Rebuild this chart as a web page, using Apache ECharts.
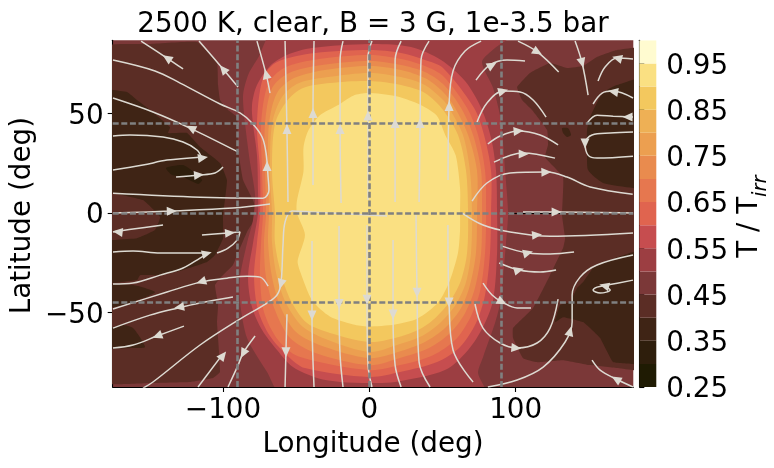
<!DOCTYPE html>
<html><head><meta charset="utf-8">
<style>html,body{margin:0;padding:0;background:#fff}#c{width:774px;height:468px}</style>
<script src="https://cdn.jsdelivr.net/npm/echarts@6/dist/echarts.min.js"></script>
</head><body><div id="c"></div><script>
const TITLE='2500 K, clear, B = 3 G, 1e-3.5 bar';
const lonTicks=[-100,0,100], latTicks=[-50,0,50];
const guideLon=[-90,0,90], guideLat=[-45,0,45];
const levels=[.25,.30,.35,.40,.45,.50,.55,.60,.65,.70,.75,.80,.85,.90,.95];
const bandColors=['#1F1B03','#2E1E0C','#3F2415','#5B2D25','#7B3838','#9C3E42','#C64D4F','#E0644F','#E6774F','#E98B4E','#EC9F50','#EEB055','#F3C85E','#FAE082','#FFFBD0'];

// contour outlines: [lon, lat]
const c40Left=[[-184,83.4],[-149.9,84.9],[-117.8,85.9],[-104.1,75.4],[-103.4,64.3],[-102,56.8],[-96.6,51.8],[-90.4,48.2],[-89.7,31.7],[-86.3,16.6],[-79.5,6.5],[-76.8,-1],[-83.6,-9.5],[-88.4,-17.6],[-93.2,-26.1],[-102.1,-32.7],[-105.5,-36.2],[-103.4,-46.2],[-104.1,-54.8],[-103.4,-62.8],[-102.1,-79.9],[-106.9,-82.9],[-122.6,-84.9],[-149.9,-85.4],[-184,-84.9]];
const c40Right=[[101,63.3],[109.8,70.4],[123.5,75.4],[135.1,72.9],[146.1,73.9],[155.6,78.4],[169.3,81.9],[191.9,82.9],[191.9,-78.9],[169.3,-77.9],[150.9,-76.4],[132.4,-73.9],[114.6,-74.9],[105.1,-72.9],[98.2,-62.8],[98.2,-57.8],[111.9,-47.7],[123.5,-31.2],[132.4,-17.6],[133.8,-12.6],[131.7,-1],[132.4,18.1],[120.1,28.1],[122.1,34.2],[121.5,41.7],[111.2,51.8],[104.4,56.8]];
const c35Left=[[-184,62.8],[-175.2,61.8],[-165.6,60.8],[-158.8,56.8],[-149.9,51.8],[-136.2,43.2],[-137.6,40.2],[-124.6,40.2],[-115.7,33.2],[-102,25.1],[-97.3,16.6],[-98.7,6.5],[-100,-1],[-100,-12.6],[-105.5,-21.1],[-110.9,-24.6],[-127.3,-28.6],[-143,-31.2],[-156.7,-31.2],[-158.8,-33.7],[-184,-35.2],[-184,-14.6],[-158.8,-12.6],[-146.5,-8.5],[-143,-2],[-154.7,6.5],[-175.2,10],[-184,10]];
const c35BulbA=[[-184,-36.2],[-161.5,-36.2],[-146.5,-39.7],[-154.7,-42.7],[-168.4,-46.2],[-184,-47.7]];
const c35BulbB=[[-184,-59.8],[-169,-56.3],[-161.5,-57.8],[-153.3,-67.3],[-161.5,-67.8],[-184,-67.8]];
const c35NE=[[191.9,67.8],[169.3,64.3],[162.4,61.8],[157.7,58.3],[150.9,48.2],[148.8,41.7],[148.8,30.2],[149.5,21.6],[159.7,15.1],[180.2,12.6],[191.9,11.6]];
const c35Spot=[[131.7,42.7],[135.8,42.7],[137.9,39.2],[135.1,38.2],[132.4,40.2]];
const c35SE=[[191.9,-18.6],[180.2,-19.6],[164.6,-23.6],[153,-27.6],[146.1,-34.7],[142,-37.7],[137.2,-44.7],[130.4,-46.2],[126.9,-54.8],[132.4,-52.3],[146.1,-54.8],[157.7,-62.8],[166.6,-74.9],[180.2,-75.9],[191.9,-76.4]];
const c30Patch=[[-139,22.6],[-127.3,24.1],[-119.1,20.1],[-114.3,16.6],[-117,14.6],[-127.3,18.1],[-134.8,19.1]];
const c50=[[-64.5,92],[-76.1,77.9],[-82.9,69.3],[-86.3,59.3],[-85,45.2],[-81.5,25.1],[-78.1,9],[-79.5,-3.5],[-83.6,-15.1],[-88.4,-32.2],[-88.4,-44.7],[-83.6,-62.8],[-69.9,-79.9],[-59,-92],[79.8,-92],[74.3,-80.4],[77.7,-72.4],[85.9,-55.3],[89.4,-45.2],[91.4,-32.2],[93.4,-15.1],[94.8,0],[92.8,21.1],[90,46.2],[84.6,62.8],[77,75.9],[85.9,82.9],[101.6,92]];
const c55=[[0,84.9],[28.5,83.4],[49,76.9],[65.4,66.3],[76.4,52.8],[83.2,37.7],[86.6,21.1],[87.3,0],[87.3,-20],[84.6,-43.7],[77.7,-57.3],[67.5,-68.8],[51.7,-78.9],[17.6,-84.9],[0,-85.4],[-20,-84.9],[-35.7,-82.9],[-52.2,-77.4],[-63.1,-68.8],[-73.3,-58.8],[-80.2,-47.2],[-82.9,-32.2],[-79.5,-15.1],[-76.1,0],[-76.1,11.1],[-76.8,29.1],[-79.5,44.7],[-80.2,54.3],[-76.8,64.3],[-67.9,73.9],[-56.3,79.4],[-39.2,82.9]];
const c60=[[0,81.9],[21.7,80.4],[38,76.9],[50.4,72.9],[71.6,52.8],[78.4,39.2],[83.2,21.1],[83.2,0],[82.5,-20],[79.1,-41.2],[72.9,-55.3],[62,-67.3],[46.3,-74.9],[21,-79.9],[0,-82.4],[-44,-77.9],[-55.6,-71.9],[-67.9,-61.8],[-76.1,-48.7],[-78.8,-32.2],[-76.8,-15.1],[-74.7,0],[-74.7,21.1],[-76.8,44.7],[-72.7,67.8],[-63.1,75.9],[-37.1,80.4]];
const c65=[[0,79.4],[21.7,77.4],[38,73.9],[50.4,68.8],[66.8,52.8],[74.3,39.2],[79.1,21.1],[79.8,0],[79.1,-20],[75.7,-39.2],[68.8,-52.8],[58.6,-63.8],[43.5,-71.4],[21,-76.4],[0,-78.9],[-48.7,-71.9],[-62.4,-63.8],[-72,-49.7],[-74.7,-32.2],[-74,-15.1],[-72.7,0],[-73.3,21.1],[-74,44.7],[-69.2,64.8],[-58.3,72.9],[-34.4,77.4]];
const c70=[[0,76.4],[21.7,74.4],[38,70.9],[50.4,64.8],[62.7,52.8],[70.9,39.2],[76.4,21.1],[77,0],[76.4,-20],[72.2,-37.7],[65.4,-50.3],[55.2,-60.3],[40.8,-67.8],[20.3,-72.9],[0,-76.4],[-36.4,-70.4],[-54.2,-62.8],[-64.5,-48.7],[-70.6,-32.2],[-72,-15.1],[-70.6,0],[-71.3,21.1],[-71.3,44.7],[-66.5,62.8],[-54.9,70.4],[-32.3,74.4]];
const c75=[[0,73.9],[21.7,71.9],[38,67.8],[50.4,60.8],[58.6,52.8],[67.5,39.2],[73.6,21.1],[73.6,0],[72.9,-20],[68.8,-36.2],[62.7,-47.7],[51.7,-57.8],[38,-64.8],[19.6,-69.8],[0,-72.9],[-32.3,-66.8],[-50.1,-59.8],[-60.4,-47.7],[-66.5,-32.2],[-69.2,-15.1],[-68.6,0],[-69.2,21.1],[-68.6,44.7],[-63.1,60.3],[-51.5,67.8],[-30.3,71.9]];
const c80=[[0,70.4],[21.7,68.3],[38,64.3],[50.4,56.8],[54.5,52.8],[64,39.2],[68.8,21.1],[70.2,0],[69.5,-20],[66.1,-34.7],[59.3,-45.7],[48.3,-55.3],[36,-61.8],[18.9,-66.3],[0,-69.8],[-28.2,-63.8],[-45.3,-57.3],[-56.3,-46.2],[-63.1,-32.2],[-66.5,-15.1],[-66.5,0],[-67.9,21.1],[-66.5,44.7],[-59.7,58.3],[-48,65.3],[-28.2,68.3]];
const c85=[[0,66.3],[21.7,64.3],[38,60.3],[50.4,51.8],[60.6,39.2],[66.1,21.1],[67.5,0],[66.8,-20],[62.7,-33.7],[55.8,-43.7],[44.9,-52.8],[33.2,-58.8],[17.6,-62.8],[0,-64.8],[-26.9,-60.3],[-42.6,-55.3],[-52.8,-45.2],[-59.7,-32.2],[-64.5,-15.1],[-64.5,0],[-66.5,21.1],[-64.5,44.7],[-56.3,56.3],[-45.3,62.8],[-26.9,65.3]];
const c90=[[-1,60.3],[17.6,58.8],[33,55],[46,49],[52,39],[59,29],[62,12.5],[62,0],[62,-8.5],[60.6,-20],[55,-34],[47,-45],[33,-53],[17.6,-56],[-1,-57],[-11,-56],[-27,-52],[-39,-44],[-47,-30],[-49,-24],[-44,-11],[-49.5,0],[-49.5,6],[-45,21],[-45,33],[-42,41],[-34,49],[-22,54],[-11,59]];
const contours=[[.40,c40Left,.1],[.40,c40Right,.1],[.35,c35Left,.1],[.35,c35BulbA,.2],[.35,c35BulbB,.2],[.35,c35NE,.2],[.35,c35Spot,.2],[.35,c35SE,.1],[.30,c30Patch,.2],[.50,c50,.25],[.55,c55,.3],[.60,c60,.3],[.65,c65,.3],[.70,c70,.3],[.75,c75,.3],[.80,c80,.3],[.85,c85,.3],[.90,c90,.25]];

const streamlines=[
[[-127.3,72.4],[-138.3,77.9],[-156,86.4]],
[[-89.7,63.3],[-100,72.4],[-116.4,86.4]],
[[-67.9,60.3],[-70.6,69.9],[-76.8,86.4]],
[[-175.2,76.9],[-146.5,71.4],[-129.3,65.3],[-102,54.8],[-88.4,50.3],[-80.2,45.2],[-73.3,38.2],[-70.6,30.2],[-69.2,18.1],[-68.6,11.6],[-72.7,7.5],[-115.7,8],[-175.2,10]],
[[-89.7,30.7],[-122.6,42.7],[-147.9,50.8],[-175.2,57.8]],
[[-175.2,38.7],[-163.6,39.2],[-141,38.2],[-127.3,35.7],[-117.8,31.7],[-114.4,27.6]],
[[-175.2,21.6],[-154.7,24.1],[-138.3,26.6],[-115.7,28.1]],
[[-132.1,18.1],[-116.4,19.1],[-105.5,20.1],[-100,23.1]],
[[-175.2,0],[-136.2,1],[-93.2,2.5],[-67.9,4.5]],
[[12.1,-1.5],[-40.5,0.5],[-52.8,1],[-57.6,-4.5],[-59,-16.1],[-60.4,-35.2],[-63.1,-41.2],[-69.9,-45.2],[-89.7,-53.8],[-115.7,-66.3],[-147.9,-84.9],[-154.7,-88]],
[[-141,-6],[-161.5,-8],[-175.2,-9.5]],
[[-114.4,-11],[-96.6,-10],[-88.4,-9.5],[-90.4,-13.6],[-96.6,-17.6],[-104.1,-20.1]],
[[-175.2,-19.6],[-161.5,-19.1],[-143,-20.1],[-115.7,-20.1],[-111,-20.1]],
[[-175.2,-35.7],[-161.5,-35.2],[-143,-31.2],[-127.3,-27.6],[-115.7,-22.6],[-110.2,-20.1]],
[[-69.2,-36.7],[-74.7,-32.2],[-83.6,-31.7],[-97.3,-32.7],[-115.7,-34.7],[-138.3,-39.7],[-175.2,-48.2]],
[[-93.2,-42.2],[-115.7,-45.2],[-130.8,-47.7],[-149.9,-51.3],[-175.2,-57.8]],
[[-126.7,-56.8],[-145.1,-61.8],[-161.5,-66.3],[-175.2,-67.8]],
[[-117.1,-87.4],[-100.7,-71.4]],
[[-78.1,-61.8],[-86.3,-70.4],[-89.7,-76.4],[-96.6,-87.4]],
[[-57.6,86.4],[-56.3,41.7],[-55.6,5.5]],
[[-37.8,86.4],[-38.5,50.8],[-38.5,14.1]],
[[-18,86.4],[-20,76.9],[-20,42.2],[-19.3,5]],
[[1.8,86.4],[-0.9,78.4],[-0.9,49.2],[-0.9,6.5]],
[[21.7,86.4],[17.6,76.9],[17.6,45.7],[17.6,5.5]],
[[40.8,86.4],[35.3,76.9],[34.7,45.2],[34,5.5]],
[[76.4,86.4],[65.4,81.4],[57.2,71.4],[54.5,54.3],[53.8,16.6]],
[[-56.3,-50.8],[-57,-69.8],[-57.6,-87.4]],
[[-39.2,-14.1],[-39.2,-51.3],[-37.8,-87.4]],
[[-20.7,-6.5],[-20.7,-45.7],[-20,-71.4],[-18,-87.4]],
[[-1.6,-6],[-1.6,-43.7],[-0.9,-76.4],[1.8,-87.4]],
[[16.2,-13.6],[16.2,-50.8],[17.6,-76.4],[21.7,-87.4]],
[[31.9,-1],[32.6,-40.2],[34,-74.9],[41.5,-87.4]],
[[53.7,-6],[54.5,-45.2],[57.2,-68.8],[70.9,-84.9]],
[[70.2,6],[80.4,15.1],[96.2,20.1],[121.5,20.6],[135.1,18.1],[150.9,13.1],[180,9.5]],
[[85.2,25.6],[105,30.2],[126.9,27.6]],
[[81,34.7],[89.4,38.7],[101.6,41.2],[116.7,39.2],[129,34.2]],
[[73.6,45.7],[80.4,55.3],[91.4,61.3],[103,60.8],[111.9,56.8],[120.8,48.2]],
[[72.9,66.8],[82.5,74.4],[94.1,76.9],[106.4,76.4]],
[[101.6,86.4],[115,80.9],[129.4,70.9]],
[[140.6,86.4],[145.4,75.4],[149.5,59.3]],
[[156.3,66.3],[161.1,73.4],[169.3,77.9],[180.2,77.4]],
[[152.9,54.8],[159.1,60.3],[166.6,61.3],[180.2,57.8]],
[[148.8,45.2],[155.6,49.2],[166.6,48.7],[180.2,48.2]],
[[180.2,40.7],[164.6,40.2],[152.2,39.2],[147.4,35.2],[149.5,29.1],[155.6,27.6],[180.2,28.6]],
[[105,0.5],[128.3,0.5],[180.2,0]],
[[63.4,0],[77.7,-6],[96.2,-9.5],[123.5,-11.6],[180.2,-10]],
[[90.7,-16.6],[108.5,-20.1],[123.5,-20.6],[139.9,-19.6]],
[[88.7,-25.1],[102.3,-28.6],[116.7,-29.6],[127.6,-28.6]],
[[77.7,-35.2],[83.9,-41.2],[90.7,-44.7],[101,-47.7],[110.5,-47.7]],
[[72.2,-45.7],[77.7,-57.8],[89.4,-65.3],[101,-67.8],[114.6,-65.3],[123.5,-57.8],[129,-43.2]],
[[81,-87.4],[101,-83.9],[118.8,-77.4],[133.8,-64.8],[138.6,-54.8],[138.6,-41.2],[144,-32.2],[155.6,-26.1],[180.2,-21.1]],
[[180.2,-33.7],[162.5,-36.2],[155.6,-37.2],[152.9,-38.7],[157.7,-40.2],[164.6,-38.7],[162.5,-37.2]],
[[152.2,-73.9],[157.7,-78.9],[168.6,-83.4],[180.2,-87.4]]
];
// arrows: [lon, lat, heading in degrees counter-clockwise from north]
const arrows=[[-138.3,77.9,56],[-100,72.4,40],[-70.6,69.9,14],[-69.9,23.6,0],[-122,42.7,63],[-113.7,27.8,-82],[-116.4,19.1,-85],[-135,1,-88],[-60.4,-35.7,165],[-172,-9.5,83],[-95.2,-10,-85],[-111,-20.3,-75],[-115,-34.5,108],[-130,-47.3,100],[-145,-61.8,110],[-100,-71.5,-38],[-86.3,-70.6,152],[-56.3,42.2,0],[-38.5,50.3,0],[-20,42.2,0],[-0.9,49,0],[17.6,45.2,0],[34.7,45.2,0],[54.5,53.8,0],[-57,-70,180],[-39.2,-51.5,180],[-20.7,-45.7,180],[-1.6,-43.5,180],[16.2,-51,180],[32.6,-40,180],[54.5,-45,180],[121,20.6,-88],[105.5,29.7,-90],[102,41.2,-85],[91.5,61.3,-75],[84,74.4,-60],[115,80.9,-120],[145.4,75.4,195],[169.3,77.9,75],[166.6,61,80],[176.5,48.2,90],[147.4,35,180],[128,0.5,-90],[114.6,-11,-85],[108.5,-20,-75],[102.3,-28.6,-75],[90.7,-44.7,-118],[100.5,-67.8,-95],[137.2,-59.3,-15],[160.5,-36.5,75],[168.6,-83.4,60]];

const FONT='"DejaVu Sans"', FS=27.8, INK='#000', LINE='#DDDAD2';
const minus=v=>String(v).replace('-','\u2212');
const colorOf=l=>bandColors[levels.findIndex(v=>Math.abs(v-l)<1e-6)];
const hiddenAxis={axisLabel:{show:false},axisTick:{show:false},splitLine:{show:false},axisLine:{show:true,lineStyle:{color:INK,width:1.1}}};
const guideStyle={color:'#808080',width:2.6,type:[6,2.6]};
const tickRich={v:{fontFamily:FONT,fontSize:FS,color:INK,padding:[6,0,0,0]}};

const chart=echarts.init(document.getElementById('c'),null,{renderer:'canvas'});
chart.setOption({
 animation:false,backgroundColor:'#fff',
 title:{text:TITLE,left:368,top:6,textAlign:'center',textStyle:{fontFamily:FONT,fontSize:FS,fontWeight:'normal',color:INK}},
 grid:[
  {left:112.7,top:40.3,width:520.6,height:346.7,show:true,backgroundColor:bandColors[4],borderWidth:0,outerBoundsMode:'none',containLabel:false},
  {left:639.3,top:40.3,width:17,height:346.7,outerBoundsMode:'none',containLabel:false}
 ],
 xAxis:[
  {type:'value',gridIndex:0,min:-175.4,max:180.4,splitLine:{show:false},axisLine:{show:true,onZero:false,lineStyle:{color:INK,width:1.1}},
   axisTick:{show:true,length:5,customValues:lonTicks,lineStyle:{color:INK,width:1.1}},
   axisLabel:{customValues:lonTicks,formatter:minus,fontFamily:FONT,fontSize:FS,color:INK,margin:10},
   name:'Longitude (deg)',nameLocation:'middle',nameGap:44,nameMoveOverlap:false,nameTextStyle:{fontFamily:FONT,fontSize:FS,color:INK}},
  Object.assign({type:'value',gridIndex:0,position:'top',min:-175.4,max:180.4},hiddenAxis),
  {type:'value',gridIndex:1,min:0,max:1,show:false}
 ],
 yAxis:[
  {type:'value',gridIndex:0,min:-87.4,max:86.8,splitLine:{show:false},axisLine:{show:true,onZero:false,lineStyle:{color:INK,width:1.1}},
   axisTick:{show:true,length:5,customValues:latTicks,lineStyle:{color:INK,width:1.1}},
   axisLabel:{customValues:latTicks,formatter:v=>'{v|'+minus(v)+'}',rich:tickRich,margin:9},
   name:'Latitude (deg)',nameLocation:'middle',nameRotate:90,nameGap:76,nameMoveOverlap:false,nameTextStyle:{fontFamily:FONT,fontSize:FS,color:INK,padding:[0,4,0,0]}},
  Object.assign({type:'value',gridIndex:0,position:'right',min:-87.4,max:86.8},hiddenAxis),
  {type:'value',gridIndex:1,position:'right',min:.25,max:1,interval:.1,splitLine:{show:false},
   axisLine:{show:true,lineStyle:{color:INK,width:1.1}},axisTick:{show:true,length:5,lineStyle:{color:INK,width:1.1}},
   axisLabel:{formatter:v=>'{v|'+v.toFixed(2)+'}',rich:tickRich,margin:10},
   name:'{a|T / T}{b|irr}',nameLocation:'middle',nameRotate:90,nameGap:79,nameMoveOverlap:false,
   nameTextStyle:{padding:[0,6,0,0],rich:{a:{fontFamily:FONT,fontSize:FS,color:INK,lineHeight:36,verticalAlign:'top'},b:{fontFamily:FONT,fontSize:19.5,fontStyle:'italic',color:INK,lineHeight:36,verticalAlign:'bottom'}}}}
 ],
 series:[
  {type:'custom',xAxisIndex:0,yAxisIndex:0,coordinateSystem:'cartesian2d',clip:true,z:2,
   encode:{x:0,y:1},data:contours.map((c,i)=>[0,0,i]),silent:true,
   renderItem:(p,api)=>{const c=contours[api.value(2)];
     return {type:'polygon',shape:{points:c[1].map(q=>api.coord(q)),smooth:c[2]},style:{fill:colorOf(c[0])}};}},
  ...streamlines.map(pts=>({type:'line',xAxisIndex:0,yAxisIndex:0,data:pts,smooth:.35,showSymbol:false,symbol:'none',clip:true,silent:true,z:3,
    lineStyle:{color:LINE,width:1.5}})),
  {type:'line',xAxisIndex:0,yAxisIndex:0,data:[],silent:true,z:4,showSymbol:false,
   markLine:{silent:true,symbol:'none',label:{show:false},lineStyle:guideStyle,animation:false,
    data:[...guideLon.map(v=>({xAxis:v})),...guideLat.map(v=>({yAxis:v}))]}},
  {type:'scatter',xAxisIndex:0,yAxisIndex:0,data:arrows,symbol:'triangle',symbolSize:[9,10],symbolRotate:v=>v[2],silent:true,z:5,itemStyle:{color:LINE,opacity:1}},
  {type:'custom',xAxisIndex:2,yAxisIndex:2,coordinateSystem:'cartesian2d',silent:true,z:2,clip:true,
   data:levels.map((l,i)=>[0,l,i]),encode:{x:0,y:1},
   renderItem:(p,api)=>{const i=api.value(2),l=api.value(1);
     const a=api.coord([0,l]),b=api.coord([1,l+.05]);
     return {type:'rect',shape:{x:a[0],y:b[1],width:b[0]-a[0],height:a[1]-b[1]},style:{fill:bandColors[i]}};}}
 ]
});
</script></body></html>
